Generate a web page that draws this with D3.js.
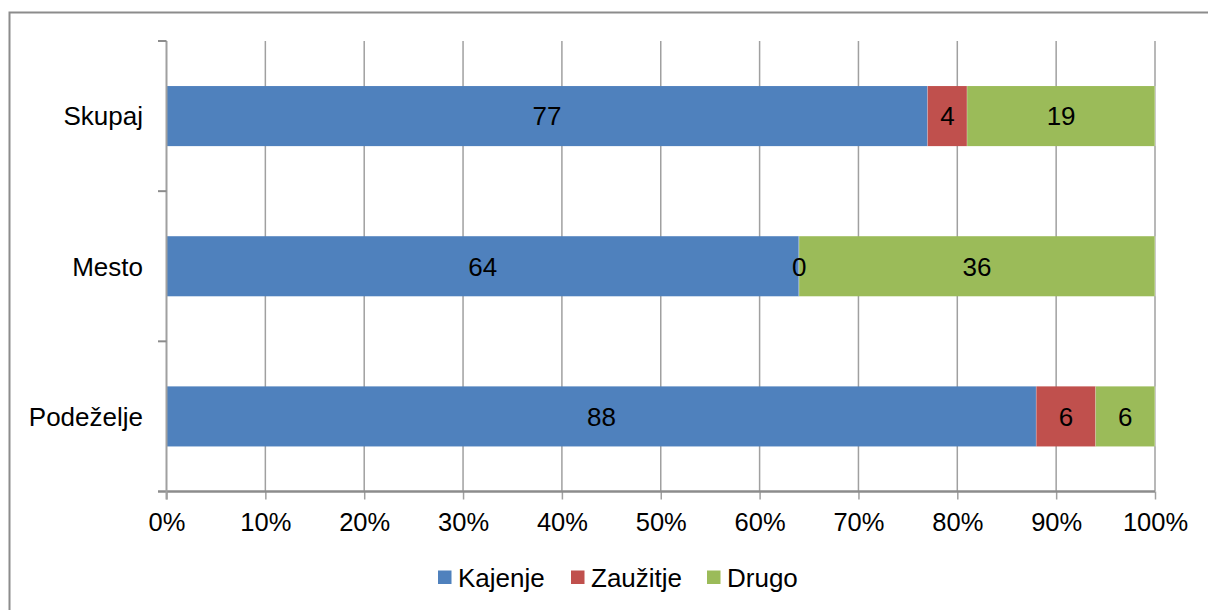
<!DOCTYPE html>
<html>
<head>
<meta charset="utf-8">
<script src="https://cdn.jsdelivr.net/npm/d3@7"></script>
<style>
  body { margin: 0; background: #fff; }
  text { font-family: "Liberation Sans", Arial, sans-serif; fill: #000; }
</style>
</head>
<body>
<script>
// podatki
var kategorije = ["Skupaj", "Mesto", "Podeželje"];
var serije = ["Kajenje", "Zaužitje", "Drugo"];
var kajenje = [77, 64, 88];
var zauzitje = [4, 0, 6];
var drugo = [19, 36, 6];
var xTicks = [0, 10, 20, 30, 40, 50, 60, 70, 80, 90, 100];
var barve = ["#4F81BD", "#C0504D", "#9BBB59"];

var w = 1208, h = 610;
var mLeft = 166.5, mRight = 1155, mTop = 41, mBottom = 491.5;
var fs = 25.5;

var svg = d3.select("body").append("svg")
  .attr("width", w)
  .attr("height", h);

// okvir
svg.append("rect")
  .attr("x", 9.5).attr("y", 12.5)
  .attr("width", w).attr("height", h)
  .attr("fill", "none")
  .attr("stroke", "#8c8c8c")
  .attr("stroke-width", 2);

var x = d3.scaleLinear().domain([0, 100]).range([mLeft, mRight]);
var y = d3.scaleBand().domain(kategorije).range([mTop, mBottom])
  .paddingInner(0.6).paddingOuter(0.3);

// mreža
svg.append("g").selectAll("line")
  .data(xTicks.slice(1))
  .enter().append("line")
  .attr("x1", d => x(d)).attr("x2", d => x(d))
  .attr("y1", mTop).attr("y2", mBottom)
  .attr("stroke", "#a0a0a0")
  .attr("stroke-width", 1.5);

// zlaganje
var tabela = kategorije.map(function(k, i) {
  return { kat: k, Kajenje: kajenje[i], "Zaužitje": zauzitje[i], Drugo: drugo[i] };
});
var stack = d3.stack().keys(serije)(tabela);

var sloji = svg.append("g").selectAll("g")
  .data(stack)
  .enter().append("g")
  .attr("fill", (d, i) => barve[i]);

sloji.selectAll("rect")
  .data(d => d)
  .enter().append("rect")
  .attr("x", d => x(d[0]))
  .attr("y", d => y(d.data.kat))
  .attr("width", d => x(d[1]) - x(d[0]))
  .attr("height", y.bandwidth());

// ločnice med segmenti
sloji.selectAll("line")
  .data(d => d)
  .enter().append("line")
  .attr("x1", d => x(d[1])).attr("x2", d => x(d[1]))
  .attr("y1", d => y(d.data.kat)).attr("y2", d => y(d.data.kat) + y.bandwidth())
  .attr("stroke", "#fff").attr("stroke-opacity", 0.5).attr("stroke-width", 1);

// oznake (nad vsemi pravokotniki)
var oznake = svg.append("g");
stack.forEach(function(s) {
  oznake.selectAll(null)
    .data(s)
    .enter().append("text")
    .attr("x", d => (x(d[0]) + x(d[1])) / 2)
    .attr("y", d => y(d.data.kat) + y.bandwidth() / 2)
    .attr("dy", "0.36em")
    .attr("text-anchor", "middle")
    .attr("font-size", 26)
    .text(d => d[1] - d[0]);
});

// osi
var xAxis = d3.axisBottom(x).tickValues(xTicks).tickSize(8).tickPadding(13)
  .tickFormat(d => d + "%");
var gx = svg.append("g")
  .attr("transform", "translate(0," + mBottom + ")")
  .call(xAxis);
gx.select(".domain").remove();
gx.append("line").attr("x1", 158).attr("x2", mRight).attr("stroke", "#8c8c8c").attr("stroke-width", 2.5);
gx.selectAll(".tick line").attr("stroke", "#a0a0a0").attr("stroke-width", 1.5);
gx.selectAll("text").attr("font-size", fs).attr("dy", "0.71em")
  .style("font-family", "'Liberation Sans', Arial, sans-serif");

var gy = svg.append("g");
gy.append("line").attr("x1", mLeft).attr("x2", mLeft).attr("y1", mTop).attr("y2", mBottom + 8)
  .attr("stroke", "#a0a0a0").attr("stroke-width", 2);
var meje = [0, 1, 2].map(i => y(kategorije[i]) - y.step() * y.paddingInner() / 2);
meje[0] = mTop;
gy.selectAll(".yt")
  .data(meje)
  .enter().append("line")
  .attr("x1", 158).attr("x2", mLeft)
  .attr("y1", d => d).attr("y2", d => d)
  .attr("stroke", "#8c8c8c").attr("stroke-width", 2);
gy.selectAll("text")
  .data(kategorije)
  .enter().append("text")
  .attr("x", 143)
  .attr("y", d => y(d) + y.bandwidth() / 2)
  .attr("dy", "0.36em")
  .attr("text-anchor", "end")
  .attr("font-size", 26)
  .text(d => d);

// legenda
var leg = svg.append("g").attr("transform", "translate(438,570.5)");
var pos = [0, 133, 269];
serije.forEach(function(s, i) {
  leg.append("rect").attr("x", pos[i]).attr("y", 0).attr("width", 13.5).attr("height", 13.5).attr("fill", barve[i]);
  leg.append("text").attr("x", pos[i] + 20).attr("y", 16).attr("font-size", 26).text(s);
});
</script>
</body>
</html>
